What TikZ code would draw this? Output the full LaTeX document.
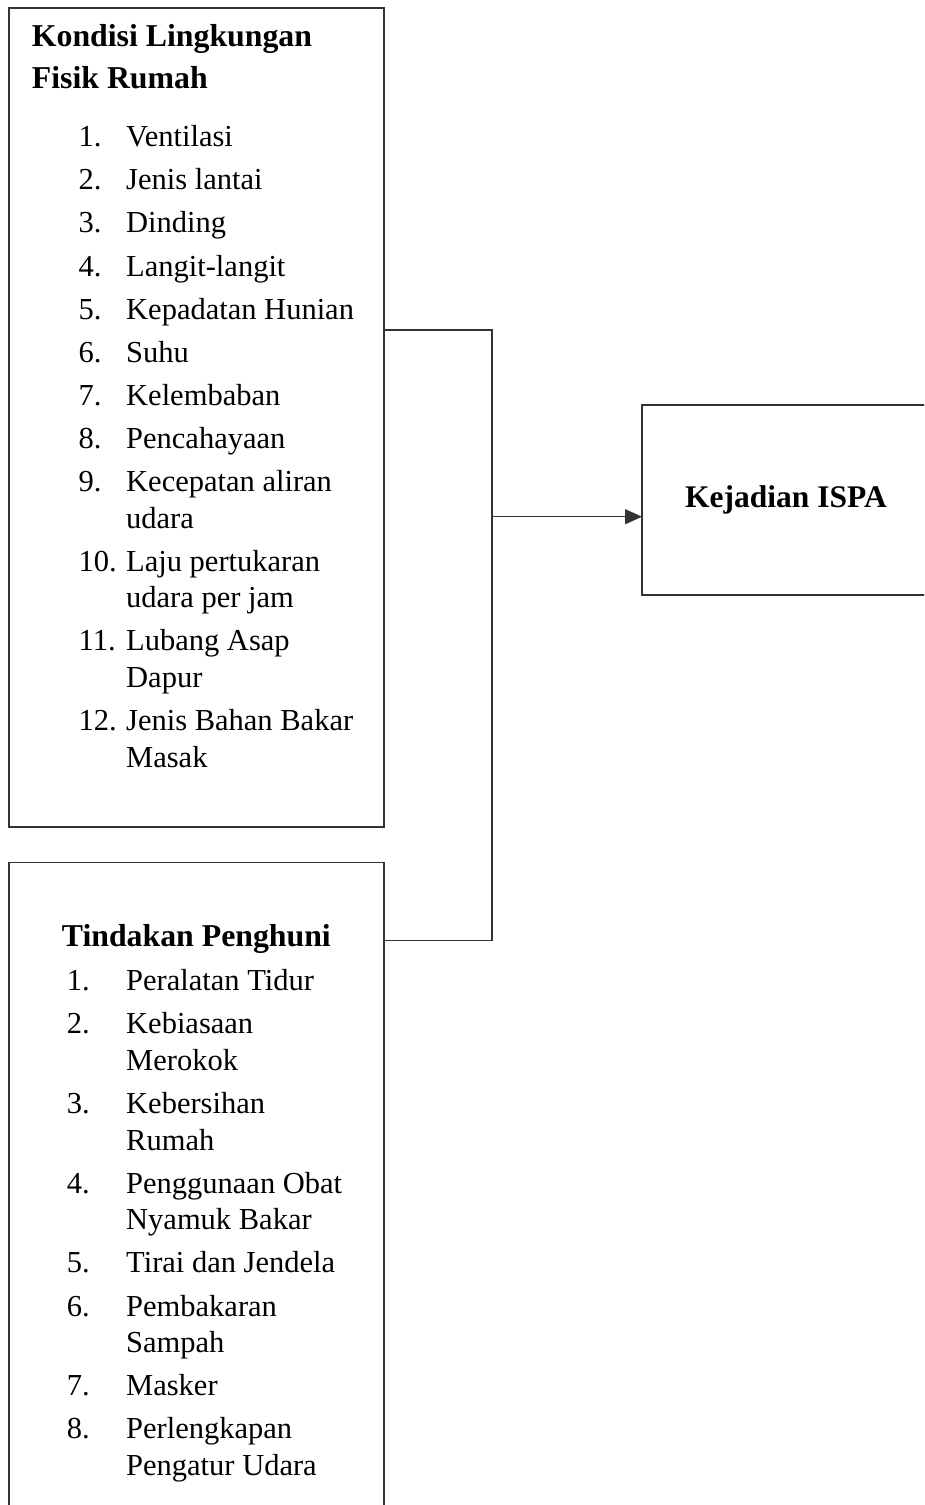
\documentclass[tikz,border=0pt]{standalone}
\usepackage{fontspec}
\setmainfont{Liberation Serif}
\usetikzlibrary{arrows.meta}

\begin{document}
\begin{tikzpicture}[x=1pt,y=-1pt]
        \tikzset{frame/.style={draw=black!80,line width=1.3pt,inner sep=0pt,outer sep=0pt,anchor=north west},
            txt/.style={inner sep=0pt,anchor=base west,font=\fontsize{30.5}{36.6}\selectfont},
            head/.style={txt,font=\fontsize{31.8}{36.6}\selectfont\bfseries},
            link/.style={draw=black!80,line width=1.3pt},
            flow/.style={link,-{Triangle[length=17pt,width=15pt]}}}
        \useasboundingbox (0,0) rectangle (924,1505);
        \clip (0,0) rectangle (924,1505);
        \node[frame,minimum width=375pt,minimum height=819pt] (fisik) at (9,8) {};
        \node[frame,minimum width=375pt,minimum height=660pt] (tindakan) at (9,862.7) {};
        \node[frame,minimum width=288pt,minimum height=190pt,font=\fontsize{31.5}{36.6}\selectfont\bfseries] (kejadian) at (642,405) {Kejadian ISPA};
        \node[head] (fisik-title) at (31.7,46.7)
            {\begin{tabular}[t]{@{}l@{}}Kondisi Lingkungan\\[5pt]Fisik Rumah\end{tabular}};
        \node[txt] (fisik-list) at (78.5,146.7)
            {\begin{tabular}[t]{@{}p{47.5pt}@{}l@{}}
            1. & Ventilasi\\[6.5pt]
            2. & Jenis lantai\\[6.5pt]
            3. & Dinding\\[6.5pt]
            4. & Langit-langit\\[6.5pt]
            5. & Kepadatan Hunian\\[6.5pt]
            6. & Suhu\\[6.5pt]
            7. & Kelembaban\\[6.5pt]
            8. & Pencahayaan\\[6.5pt]
            9. & Kecepatan aliran\\
               & udara\\[6.5pt]
            10. & Laju pertukaran\\
                & udara per jam\\[6.5pt]
            11. & Lubang Asap\\
                & Dapur\\[6.5pt]
            12. & Jenis Bahan Bakar\\
                & Masak
            \end{tabular}};
        \node[head] (tindakan-title) at (61.7,946.7) {Tindakan Penghuni};
        \node[txt] (tindakan-list) at (66.7,990.7)
            {\begin{tabular}[t]{@{}p{59.3pt}@{}l@{}}
            1. & Peralatan Tidur\\[6.5pt]
            2. & Kebiasaan\\
               & Merokok\\[6.5pt]
            3. & Kebersihan\\
               & Rumah\\[6.5pt]
            4. & Penggunaan Obat\\
               & Nyamuk Bakar\\[6.5pt]
            5. & Tirai dan Jendela\\[6.5pt]
            6. & Pembakaran\\
               & Sampah\\[6.5pt]
            7. & Masker\\[6.5pt]
            8. & Perlengkapan\\
               & Pengatur Udara
            \end{tabular}};
        \coordinate (join) at (492,516.7);
        \draw[link] ([yshift=87.5pt]fisik.east) -| (join);
        \draw[link] ([yshift=252pt]tindakan.east) -| (join);
        \draw[flow] (join) -- (join -| kejadian.west);
\end{tikzpicture}
\end{document}
